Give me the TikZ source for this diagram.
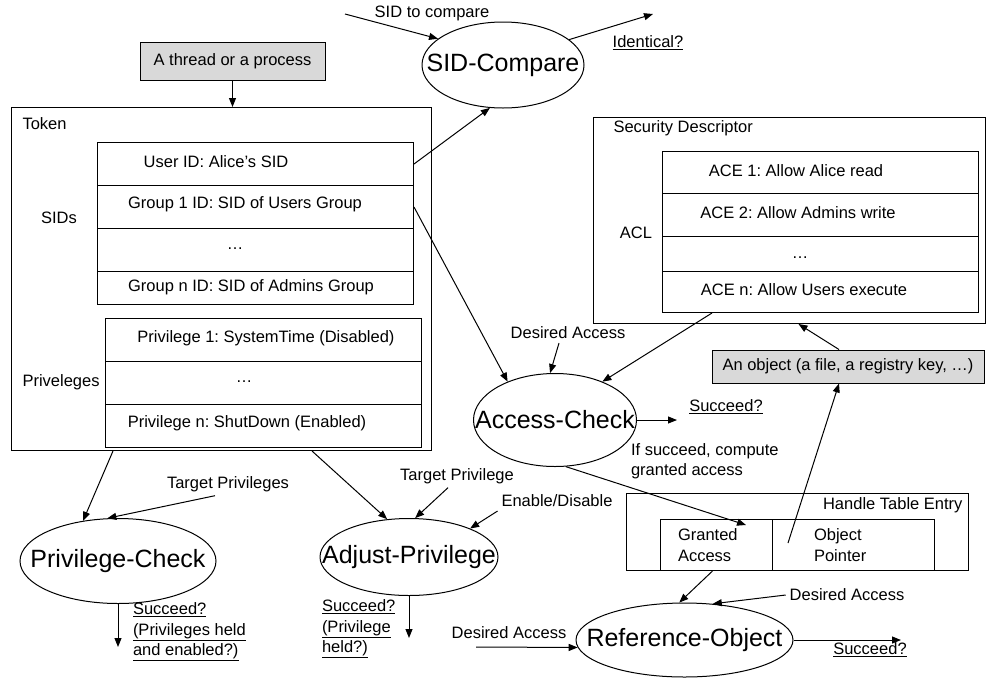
\documentclass[tikz,border=0pt]{standalone}
\usepackage{fontspec}
\setmainfont{Liberation Sans}
\usetikzlibrary{positioning,arrows.meta,shapes.geometric}
\frenchspacing

\begin{document}
\begin{tikzpicture}[x=1pt, y=-1pt,
  every node/.style={font=\fontsize{16.5}{20.5}\selectfont},
  bx/.style={draw, line width=1pt, anchor=north west, inner sep=0pt},
  row/.style={bx, minimum width=316pt, minimum height=#1},
  gb/.style={draw, line width=1pt, fill=black!15, inner sep=0pt},
  op/.style={ellipse, draw, line width=1pt, inner sep=0pt,
             label={[font=\fontsize{25}{30}\selectfont]center:#1}},
  ar/.style={-{Triangle[length=9pt,width=7pt]}, line width=1pt},
  lb/.style={inner sep=1pt, outer sep=3pt, align=left}
]
\useasboundingbox (0,0) rectangle (987,678);

\node[gb, minimum width=185pt, minimum height=38pt] (thread) at (232.5,61) {A thread or a process};

\node[bx, minimum width=420pt, minimum height=343pt] (token) at (11,107) {};
\node[anchor=west] (tokl) at (19,124) {Token};
\node (sids) at (59,218) {SIDs};
\node[anchor=west] (privs) at (19,382) {Priveleges};
\node[row=43pt] (sid1) at (97,142) {};
\node[row=43pt] (sid2) at (97,185) {};
\node[row=43pt] (sid3) at (97,228) {};
\node[row=33pt] (sid4) at (97,271) {};
\node (sidt1) at (216,162) {User ID: Alice's SID};
\node (sidt2) at (245,204) {Group 1 ID: SID of Users Group};
\node (sidt3) at (235,249) {…};
\node (sidt4) at (251,287) {Group n ID: SID of Admins Group};
\node[row=43pt] (pr1) at (105,318) {};
\node[row=43pt] (pr2) at (105,361) {};
\node[row=43pt] (pr3) at (105,404) {};
\node (prt1) at (266,338) {Privilege 1: SystemTime (Disabled)};
\node (prt2) at (244,382) {…};
\node (prt3) at (247,423) {Privilege n: ShutDown (Enabled)};

\node[bx, minimum width=392pt, minimum height=206pt] (sd) at (593,117) {};
\node[anchor=west] (sdl) at (610,128) {Security Descriptor};
\node (acl) at (636,233) {ACL};
\node[row=42pt] (ace1) at (662,151) {};
\node[row=43pt] (ace2) at (662,193) {};
\node[row=35pt] (ace3) at (662,236) {};
\node[row=41pt] (ace4) at (662,271) {};
\node (acet1) at (796,171) {ACE 1: Allow Alice read};
\node (acet2) at (798,213) {ACE 2: Allow Admins write};
\node (acet3) at (800,258) {…};
\node (acet4) at (804,290) {ACE n: Allow Users execute};

\node[gb, minimum width=272pt, minimum height=33pt] (obj) at (848,366.5) {An object (a file, a registry key, …)};

\node[bx, minimum width=342pt, minimum height=77pt] (hte) at (626,493) {};
\node[anchor=east] (htel) at (966,505) {Handle Table Entry};
\node[bx, minimum width=112pt, minimum height=51pt] (ga) at (660,519) {};
\node[bx, minimum width=162pt, minimum height=51pt] (optr) at (772,519) {};
\node[lb, anchor=west, outer sep=0pt] (gat) at (677,545) {Granted\\Access};
\node[lb, anchor=west, outer sep=0pt] (optt) at (813,545) {Object\\Pointer};

\node[op=SID-Compare, minimum width=162pt, minimum height=86pt] (sc) at (503,65) {};
\node[op=Access-Check, minimum width=163pt, minimum height=93pt] (ac) at (555,420) {};
\node[op=Privilege-Check, minimum width=196pt, minimum height=85pt] (pc) at (118,561) {};
\node[op=Adjust-Privilege, minimum width=178pt, minimum height=77pt] (ap) at (409,557) {};
\node[op=Reference-Object, minimum width=217pt, minimum height=74pt] (ro) at (684.5,640) {};

\node[lb] (sidl) at (432,13) {SID to compare};
\node[lb] (idl) at (648,43) {\underline{Identical?}};
\node[lb] (da1) at (568,333) {Desired Access};
\node[lb] (sc1) at (726,407) {\underline{Succeed?}};
\node[lb, anchor=west] (cmp) at (627,461) {If succeed, compute\\granted access};
\node[lb] (tp1) at (228,484) {Target Privileges};
\node[lb] (tp2) at (457,476) {Target Privilege};
\node[lb] (ed) at (557,501) {Enable/Disable};
\node[lb, anchor=west] (sc2) at (129,632) {\underline{Succeed?}\\\underline{(Privileges held}\\\underline{and enabled?)}};
\node[lb, anchor=west] (sc3) at (318,629) {\underline{Succeed?}\\\underline{(Privilege}\\\underline{held?)}};
\node[lb] (da2) at (509,633) {Desired Access};
\node[lb] (da3) at (847,595) {Desired Access};
\node[lb] (sc4) at (870,650) {\underline{Succeed?}};

\coordinate (sidin) at (345,14);
\coordinate (idout) at (653,14);
\coordinate (acout) at (677,420);
\coordinate (gain) at (746,525);
\coordinate (opin) at (788,543);
\coordinate (dain) at (476,647);
\coordinate (roout) at (901,640);
\coordinate (pcout) at (118,647);
\coordinate (apout) at (409,638);

\draw[ar] (thread.south) -- (thread.south |- token.north);
\draw[ar] (sidin) -- (sc.158);
\draw[ar] (sc.21) -- (idout);
\draw[ar] (sid1.east) -- (sc.253);
\draw[ar] (sid2.east) -- (ac.141);
\draw[ar] ([xshift=-9pt]da1.south) -- (ac.96);
\draw[ar] ([xshift=50pt]ace4.south west) -- (ac.39);
\draw[ar] ([xshift=-9pt]obj.north) -- ([xshift=9pt]sd.south);
\draw[ar] (ac.east) -- (acout);
\draw[ar] (ac.283) -- (gain);
\draw[ar] (opin) -- ([xshift=-9pt]obj.south);
\draw[ar] ([xshift=-4pt]ga.south) -- (ro.98);
\draw[ar] (da3.west) -- (ro.52);
\draw[ar] (dain) -- (ro.184);
\draw[ar] (ro.east) -- (roout);
\draw[ar] ([xshift=102pt]token.south west) -- (pc.131);
\draw[ar] ([xshift=-13pt]tp1.south) -- (pc.104);
\draw[ar] (pc.south) -- (pcout);
\draw[ar] ([xshift=301pt]token.south west) -- (ap.120);
\draw[ar] ([xshift=-9pt]tp2.south) -- (ap.81);
\draw[ar] (ed.south west) -- (ap.25);
\draw[ar] (ap.south) -- (apout);
\end{tikzpicture}
\end{document}
